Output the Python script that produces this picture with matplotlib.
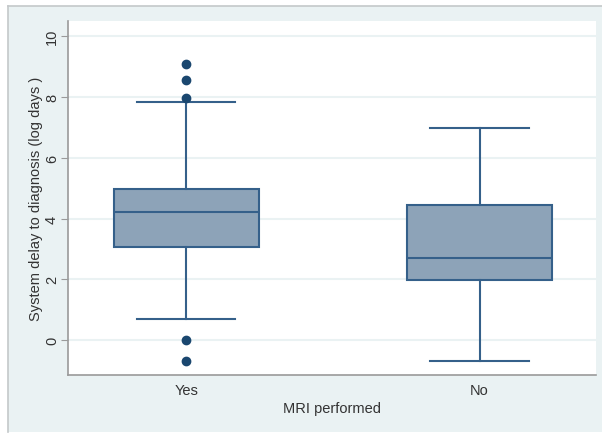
import matplotlib
matplotlib.use("Agg")
import matplotlib.pyplot as plt
from matplotlib.patches import Rectangle

plt.rcParams['font.family'] = ['Liberation Sans', 'DejaVu Sans']

# summary statistics of log system delay by MRI status
groups = ['Yes', 'No']
q1 = [3.06, 1.97]
medians = [4.20, 2.70]
q3 = [4.97, 4.44]
whisker_lo = [0.69, -0.69]
whisker_hi = [7.83, 6.97]
outliers = [[9.08, 8.55, 7.96, 0.0, -0.69], []]

box_fill = '#8da3b8'
line_col = '#35608a'
dot_col = '#1a476f'
panel_col = '#eaf2f3'

fig = plt.figure(figsize=(6.02, 4.35), dpi=100)
fig.patch.set_facecolor('white')

# light outer panel with a grey border along top and left
panel = Rectangle((8 / 602, 1 - 433 / 435), 1 - 8 / 602, 426 / 435,
                  transform=fig.transFigure, facecolor=panel_col,
                  edgecolor='none', zorder=-2)
fig.add_artist(panel)
fig.add_artist(plt.Line2D([8 / 602, 1], [1 - 7 / 435, 1 - 7 / 435],
                          transform=fig.transFigure, color='#c4c8ca', lw=1.2,
                          zorder=-1))
fig.add_artist(plt.Line2D([8 / 602, 8 / 602], [1 - 433 / 435, 1 - 7 / 435],
                          transform=fig.transFigure, color='#c4c8ca', lw=1.2,
                          zorder=-1))

ax = fig.add_axes([68 / 602, 1 - 376 / 435, 528 / 602, 354 / 435])
ax.set_zorder(1)
ax.set_facecolor('white')

stats = []
for i, g in enumerate(groups):
    stats.append({'label': g, 'q1': q1[i], 'med': medians[i], 'q3': q3[i],
                  'whislo': whisker_lo[i], 'whishi': whisker_hi[i],
                  'fliers': outliers[i]})

ax.bxp(stats, positions=[1, 2], widths=0.495, patch_artist=True,
       showcaps=True,
       boxprops=dict(facecolor=box_fill, edgecolor=line_col, linewidth=1.5),
       medianprops=dict(color=line_col, linewidth=1.5),
       whiskerprops=dict(color=line_col, linewidth=1.5),
       capprops=dict(color=line_col, linewidth=1.5),
       capwidths=0.335,
       flierprops=dict(marker='o', markerfacecolor=dot_col,
                       markeredgecolor=dot_col, markersize=6))

ax.set_xlim(0.597, 2.397)
ax.set_ylim(-1.15, 10.5)
ax.set_yticks([0, 2, 4, 6, 8, 10])
ax.set_yticklabels(['0', '2', '4', '6', '8', '10'], rotation=90, va='center')
ax.yaxis.grid(True, color=panel_col, linewidth=1.5)
ax.set_axisbelow(True)

for side in ['top', 'right']:
    ax.spines[side].set_visible(False)
for side in ['left', 'bottom']:
    ax.spines[side].set_color('#9a9a9a')
    ax.spines[side].set_linewidth(1.2)

ax.tick_params(axis='y', length=5, color='#9a9a9a', labelsize=10.5,
               labelcolor='#333333', pad=1.5)
ax.tick_params(axis='x', length=0, labelsize=10.5, labelcolor='#333333', pad=6)

ax.set_ylabel('System delay to diagnosis (log days )', fontsize=10.5,
              color='#333333', labelpad=1.5)
ax.set_xlabel('MRI performed', fontsize=10.5, color='#333333', labelpad=3)

fig.savefig('out.png', dpi=100)
